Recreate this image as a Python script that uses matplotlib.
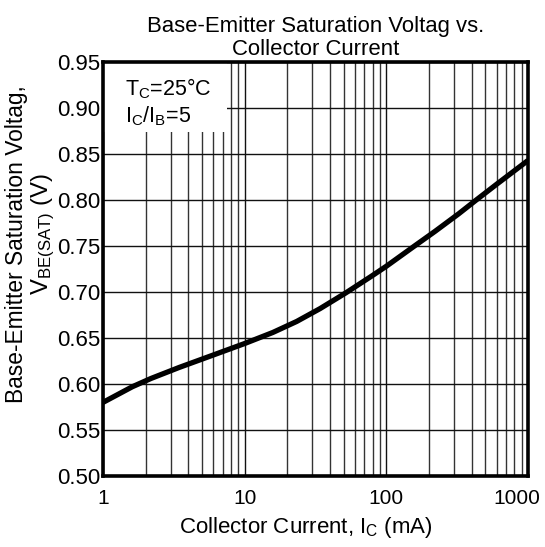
import matplotlib
matplotlib.use("Agg")
import matplotlib.pyplot as plt
from matplotlib.ticker import FixedLocator, NullFormatter, FixedFormatter
from matplotlib.patches import Rectangle
import matplotlib.transforms as mtransforms

plt.rcParams['font.family'] = ['Liberation Sans', 'DejaVu Sans']
plt.rcParams['mathtext.fontset'] = 'custom'
plt.rcParams['mathtext.rm'] = 'Liberation Sans'
plt.rcParams['mathtext.it'] = 'Liberation Sans'

# Data
ic_ma = [1.0, 1.61, 2.18, 3.45, 5.88, 10.0, 15.8, 23.3, 34.1, 51.7, 78.2, 100,
         158, 221, 324, 431, 611, 1000]
vbe_sat = [0.580, 0.597, 0.606, 0.618, 0.631, 0.644, 0.656, 0.668, 0.682, 0.699, 0.717, 0.728,
           0.750, 0.766, 0.785, 0.800, 0.818, 0.843]

x_ticks = [1, 10, 100, 1000]
x_tick_labels = ["1", "10", "100", "1000"]
y_ticks = [0.50, 0.55, 0.60, 0.65, 0.70, 0.75, 0.80, 0.85, 0.90, 0.95]
y_tick_labels = ["0.50", "0.55", "0.60", "0.65", "0.70", "0.75", "0.80", "0.85", "0.90", "0.95"]

W, H = 545, 547
fig = plt.figure(figsize=(W / 100, H / 100), dpi=100)
ax = fig.add_axes([103 / W, 1 - 476 / H, 425 / W, 414 / H])

ax.set_xscale('log')
ax.set_xlim(1, 1000)
ax.set_ylim(0.50, 0.95)

minor = [m * d for d in (1, 10, 100) for m in range(2, 10)]
ax.xaxis.set_major_locator(FixedLocator(x_ticks))
ax.xaxis.set_major_formatter(FixedFormatter(x_tick_labels))
ax.xaxis.set_minor_locator(FixedLocator(minor))
ax.xaxis.set_minor_formatter(NullFormatter())
ax.yaxis.set_major_locator(FixedLocator(y_ticks))
ax.yaxis.set_major_formatter(FixedFormatter(y_tick_labels))

ax.grid(True, which='major', axis='both', color='#111111', linewidth=1.0)
ax.grid(True, which='minor', axis='x', color='#333333', linewidth=1.0)
ax.set_axisbelow(True)

ax.tick_params(axis='y', which='both', length=0, labelsize=16, pad=2)
ax.tick_params(axis='x', which='both', length=0, labelsize=15, pad=9)
for s in ax.spines.values():
    s.set_linewidth(2.6)
    s.set_color('black')

fig.canvas.draw()
xlabels = ax.get_xticklabels()
xlabels[-1].set_transform(xlabels[-1].get_transform() +
                          mtransforms.ScaledTranslation(-11 / 100, 0, fig.dpi_scale_trans))

ax.plot(ic_ma, vbe_sat, color='black', linewidth=3.8, solid_joinstyle='round',
        solid_capstyle='butt', zorder=3)

# white annotation box
ax.add_patch(Rectangle((0, 1 - 70 / 414), 124 / 425, 70 / 414, transform=ax.transAxes,
                       facecolor='white', edgecolor='none', zorder=2.5))
ax.text(22 / 425, 1 - 33 / 414, "T$_\\mathrm{C}$=25°C", transform=ax.transAxes,
        ha='left', va='baseline', fontsize=15.5, zorder=4)
ax.text(22 / 425, 1 - 60 / 414, "I$_\\mathrm{C}$/I$_\\mathrm{B}$=5", transform=ax.transAxes,
        ha='left', va='baseline', fontsize=15.5, zorder=4)

# title (two lines)
fig.text(316 / W, 1 - 32 / H, "Base-Emitter Saturation Voltag vs.", ha='center',
         va='baseline', fontsize=15.9)
fig.text(316 / W, 1 - 55 / H, "Collector Current", ha='center', va='baseline', fontsize=15.9)

# x label
fig.text(306 / W, 1 - 533 / H, "Collector Current, I$_\\mathrm{C}$ (mA)", ha='center',
         va='baseline', fontsize=16)

# y label (two lines)
fig.text(17 / W, 1 - 244 / H, "Base-Emitter Saturation Voltag,", rotation=90,
         ha='center', va='center', fontsize=16.4)
fig.text(43 / W, 1 - 234 / H, "V$_\\mathrm{BE(SAT)}$ (V)", rotation=90,
         ha='center', va='center', fontsize=17.2)

fig.savefig("out.png", dpi=100)
